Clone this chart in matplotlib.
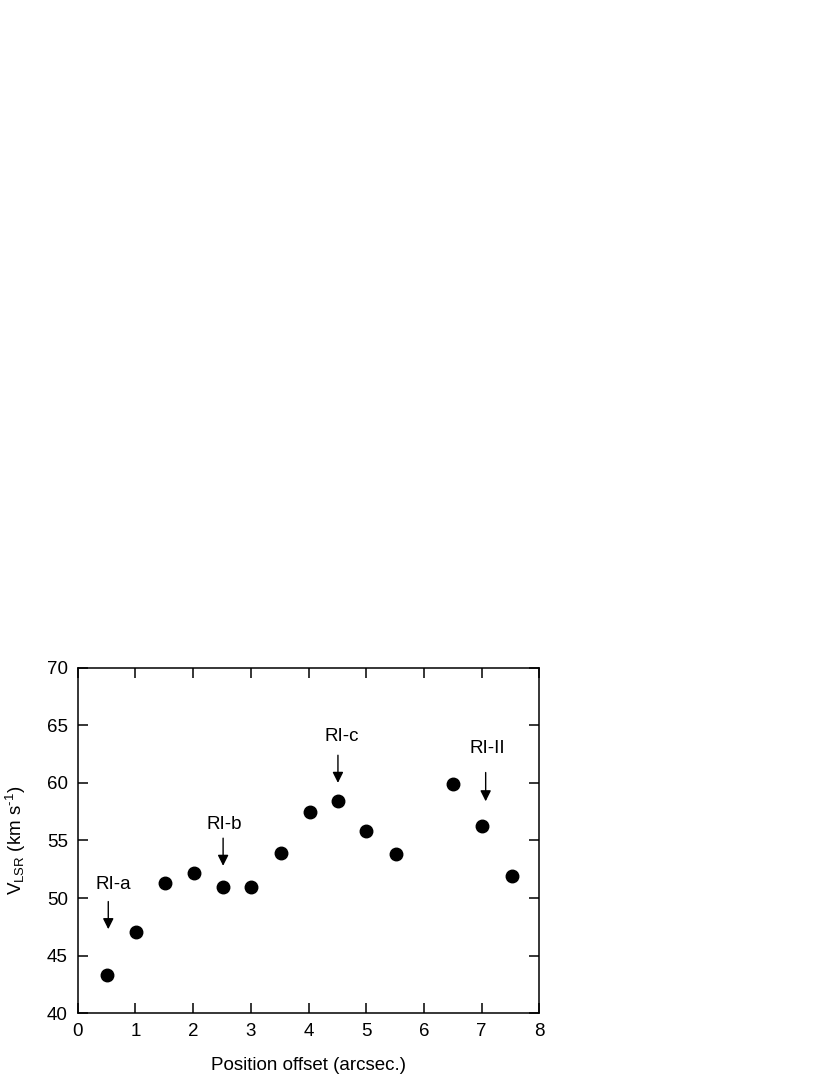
import matplotlib
matplotlib.use('Agg')
import matplotlib.pyplot as plt

plt.rcParams['font.family'] = ['Liberation Sans', 'DejaVu Sans']
plt.rcParams['mathtext.fontset'] = 'custom'
plt.rcParams['mathtext.rm'] = 'Liberation Sans'
plt.rcParams['mathtext.it'] = 'Liberation Sans:italic'

# data
offset = [0.51, 1.01, 1.52, 2.02, 2.51, 3.00, 3.52, 4.02, 4.51, 5.00, 5.52, 6.51, 7.01, 7.52]
vlsr = [43.3, 47.1, 51.3, 52.2, 51.0, 51.0, 53.9, 57.5, 58.4, 55.8, 53.8, 59.9, 56.3, 51.9]

# labelled regions: name, arrow x, arrow top, arrow tip, text x, text y
region_names = ['RI-a', 'RI-b', 'RI-c', 'RI-II']
region_x = [0.53, 2.52, 4.51, 7.07]
arrow_top = [49.7, 55.2, 62.4, 60.9]
arrow_tip = [47.3, 52.8, 60.0, 58.4]
label_x = [0.62, 2.54, 4.58, 7.09]
label_y = [51.2, 56.35, 64.0, 62.95]

fig = plt.figure(figsize=(8.3, 10.75), dpi=100)
ax = fig.add_axes([0.0936, 0.0574, 0.5562, 0.3215])

ax.plot(offset, vlsr, 'o', color='black', ms=9, linestyle='none')

for name, x, y0, y1, tx, ty in zip(region_names, region_x, arrow_top, arrow_tip, label_x, label_y):
    ax.annotate('', xy=(x, y1), xytext=(x, y0),
                arrowprops=dict(arrowstyle='-|>', color='black', lw=1, mutation_scale=16,
                                shrinkA=0, shrinkB=0))
    ax.text(tx, ty, name, ha='center', va='center', fontsize=13.5)

ax.set_xlim(0, 8)
ax.set_ylim(40, 70)
ax.set_xticks(range(0, 9))
ax.set_yticks(range(40, 71, 5))
ax.tick_params(direction='in', length=7, width=1.1, top=True, right=True,
               labelsize=13.5, pad=7)
for s in ax.spines.values():
    s.set_linewidth(1.1)

ax.set_xlabel('Position offset (arcsec.)', fontsize=13.5, labelpad=12)
ax.set_ylabel(r'V$_{\rm LSR}$ (km s$^{\text{-1}}$)', fontsize=13.5, labelpad=14)

fig.savefig('out.png', dpi=100)
